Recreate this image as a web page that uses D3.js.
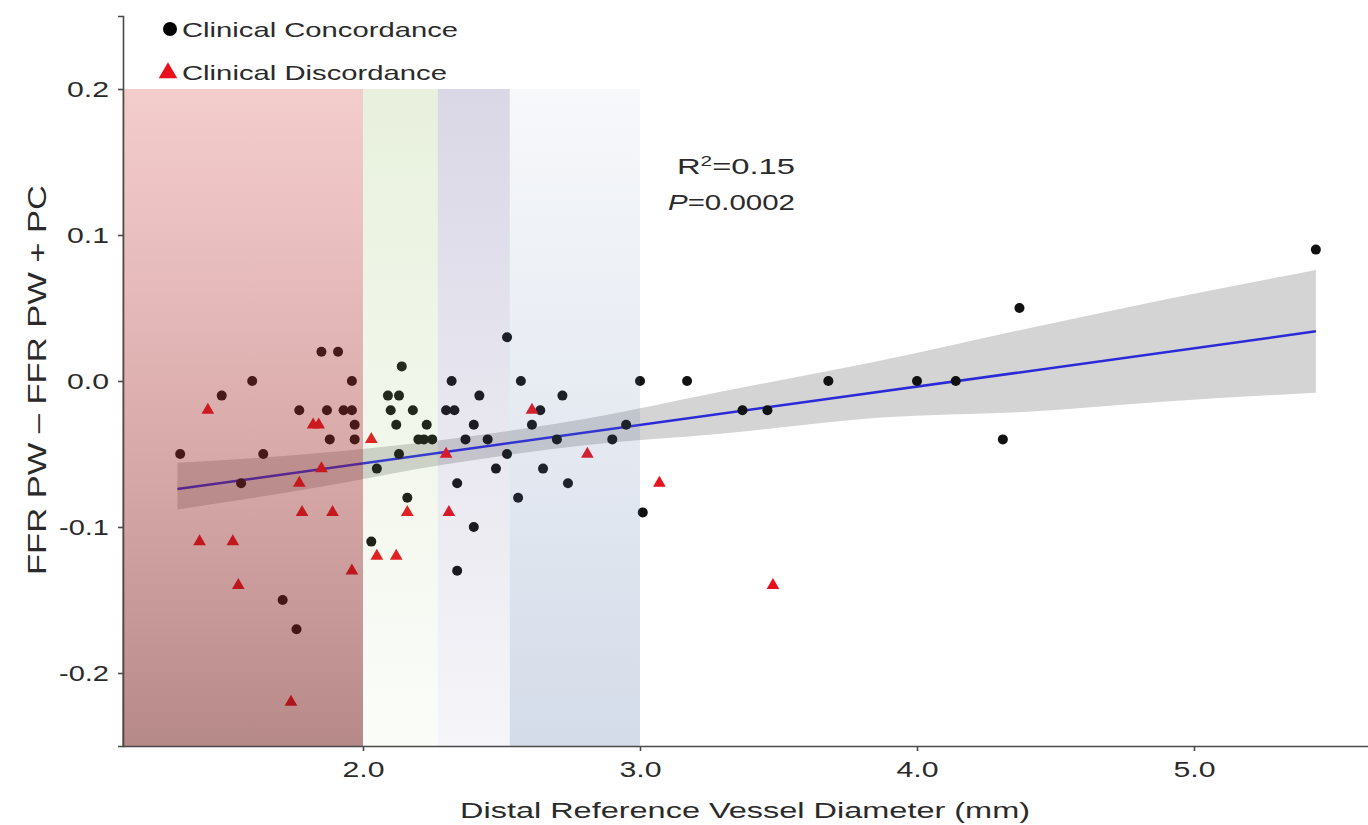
<!DOCTYPE html>
<html><head><meta charset="utf-8">
<script src="https://cdn.jsdelivr.net/npm/d3@7"></script>
<style>body{margin:0;background:#fff}svg{display:block}text{font-family:"Liberation Sans",Arial,sans-serif;fill:#2a2a2a}</style>
</head><body><svg id="c" width="1368" height="825"></svg>
<script>
// Concordance (black circles): diameter (mm), difference
const concX = [1.34,1.49,1.56,1.60,1.64,1.71,1.76,1.77,1.85,1.91,1.87,1.93,1.96,1.96,1.97,1.88,1.97,2.03,2.05,2.09,2.13,2.14,2.10,2.18,2.12,2.23,2.20,2.22,2.25,2.13,2.16,2.30,2.33,2.32,2.34,2.34,2.37,2.40,2.40,2.42,2.45,2.48,2.52,2.52,2.56,2.57,2.61,2.64,2.65,2.70,2.72,2.74,2.90,2.95,3.00,3.01,3.17,3.37,3.46,3.68,4.00,4.14,4.31,4.37,5.44];
const concY = [-0.05,-0.01,-0.07,0.00,-0.05,-0.15,-0.17,-0.02,0.02,0.02,-0.02,-0.02,-0.02,0.00,-0.03,-0.04,-0.04,-0.11,-0.06,-0.01,-0.01,0.01,-0.02,-0.02,-0.03,-0.03,-0.04,-0.04,-0.04,-0.05,-0.08,-0.02,-0.02,0.00,-0.07,-0.13,-0.04,-0.03,-0.10,-0.01,-0.04,-0.06,0.03,-0.05,-0.08,0.00,-0.03,-0.02,-0.06,-0.04,-0.01,-0.07,-0.04,-0.03,0.00,-0.09,0.00,-0.02,-0.02,0.00,0.00,0.00,-0.04,0.05,0.09];
// Discordance (red triangles)
const discX = [1.44,1.82,1.84,2.03,1.85,1.77,1.78,1.89,1.41,1.53,2.05,2.12,1.96,1.55,1.74,2.16,2.31,2.30,2.61,2.81,3.07,3.48];
const discY = [-0.02,-0.03,-0.03,-0.04,-0.06,-0.07,-0.09,-0.09,-0.11,-0.11,-0.12,-0.12,-0.13,-0.14,-0.22,-0.09,-0.09,-0.05,-0.02,-0.05,-0.07,-0.14];
// Regression fit and 95% CI
const fitX = [1.33, 5.44];
const fitY = [-0.074, 0.034];
const ciX  = [1.33, 1.8, 2.3, 2.8, 3.3, 3.87, 4.4, 4.9, 5.44];
const ciLo = [-0.088,-0.074,-0.057,-0.044,-0.036,-0.025,-0.021,-0.014,-0.008];
const ciHi = [-0.056,-0.050,-0.040,-0.026,-0.007,0.014,0.036,0.056,0.076];
// Shaded diameter bands
const bandStart = [1.13, 2.0, 2.27, 2.53];
const bandEnd   = [2.0, 2.27, 2.53, 3.0];
const xTicks = [2, 3, 4, 5];
const xTickLabels = ["2.0","3.0","4.0","5.0"];
const yTicks = [-0.2,-0.1,0.0,0.1,0.2];
const yTickLabels = ["-0.2","-0.1","0.0","0.1","0.2"];

const svg = d3.select("#c");
const x = d3.scaleLinear().domain([1.13, 5.63]).range([122, 1368.5]);
const y = d3.scaleLinear().domain([-0.25, 0.25]).range([746, 16]);

const defs = svg.append("defs");
const bandGrad = [
  {top:["rgb(210,60,60)",0.26], bot:["rgb(110,20,20)",0.5]},
  {top:["rgb(150,190,100)",0.22], bot:["rgb(150,190,100)",0.04]},
  {top:["rgb(100,90,150)",0.24], bot:["rgb(100,90,150)",0.06]},
  {top:["rgb(90,120,170)",0.05], bot:["rgb(90,120,170)",0.26]}
];
bandGrad.forEach((g,i)=>{
  const lg = defs.append("linearGradient").attr("id","bg"+i).attr("x1",0).attr("x2",0).attr("y1",0).attr("y2",1);
  lg.append("stop").attr("offset","0%").attr("stop-color",g.top[0]).attr("stop-opacity",g.top[1]);
  lg.append("stop").attr("offset","100%").attr("stop-color",g.bot[0]).attr("stop-opacity",g.bot[1]);
});

// CI band
const ci = ciX.map((v,i)=>({x:v,lo:ciLo[i],hi:ciHi[i]}));
svg.append("path").datum(ci)
  .attr("d", d3.area().x(d=>x(d.x)).y0(d=>y(d.lo)).y1(d=>y(d.hi)).curve(d3.curveMonotoneX))
  .attr("fill","#d4d4d4");
// regression line
svg.append("path").datum(fitX.map((v,i)=>[v,fitY[i]]))
  .attr("d", d3.line().x(d=>x(d[0])).y(d=>y(d[1])))
  .attr("stroke","#2a2ad8").attr("stroke-width",2.5).attr("fill","none");

// points
svg.append("g").selectAll("circle").data(concX.map((v,i)=>[v,concY[i]])).join("circle")
  .attr("cx",d=>x(d[0])).attr("cy",d=>y(d[1])).attr("r",5).attr("fill","#111");
const tri = d3.symbol().type(d3.symbolTriangle).size(70);
svg.append("g").selectAll("path").data(discX.map((v,i)=>[v,discY[i]])).join("path")
  .attr("d",tri).attr("transform",d=>`translate(${x(d[0])},${y(d[1])})`).attr("fill","#e8101c");

// overlay bands
svg.append("g").selectAll("rect").data(bandStart.map((s,i)=>({s,e:bandEnd[i],i}))).join("rect")
  .attr("x",d=>x(d.s)).attr("width",d=>x(d.e)-x(d.s))
  .attr("y",y(0.2)).attr("height",y(-0.25)-y(0.2))
  .attr("fill",d=>`url(#bg${d.i})`);

// axes
const ax = svg.append("g").attr("transform",`translate(0,${y(-0.25)})`)
  .call(d3.axisBottom(x).tickValues(xTicks).tickFormat((d,i)=>xTickLabels[i]).tickSize(5).tickSizeOuter(0));
const ay = svg.append("g").attr("transform",`translate(${x(1.13)+1},0)`)
  .call(d3.axisLeft(y).tickValues(yTicks).tickFormat((d,i)=>yTickLabels[i]).tickSize(5).tickSizeOuter(5));
[ax,ay].forEach(a=>{a.selectAll("path,line").attr("stroke","#4a4a4a").attr("stroke-width",1.6);
  a.selectAll("text").style("font-family",'"Liberation Sans",Arial,sans-serif').attr("font-size",22).attr("fill","#2a2a2a");});
ax.selectAll("text").attr("dy","0.6em").attr("y",18).attr("textLength",42).attr("lengthAdjust","spacingAndGlyphs");
ay.selectAll("text").attr("x",-14).each(function(d){d3.select(this).attr("textLength", d<0?50:42).attr("lengthAdjust","spacingAndGlyphs");});

function label(str,xp,yp,size,len,anchor){
  return svg.append("text").attr("x",xp).attr("y",yp).attr("font-size",size)
    .attr("text-anchor",anchor||"start").attr("textLength",len).attr("lengthAdjust","spacingAndGlyphs").text(str);
}
// axis titles
label("Distal Reference Vessel Diameter (mm)", 745, 818, 22, 570, "middle").attr("fill","#3a3a3a");
svg.append("text").attr("transform","translate(46,380) rotate(-90)").attr("font-size",25)
  .attr("text-anchor","middle").attr("textLength",390).attr("lengthAdjust","spacingAndGlyphs")
  .attr("fill","#3a3a3a").text("FFR PW \u2013 FFR PW + PC");

// legend
svg.append("circle").attr("cx",170).attr("cy",29).attr("r",7).attr("fill","#000");
svg.append("path").attr("d",d3.symbol().type(d3.symbolTriangle).size(150)).attr("transform","translate(168,73)").attr("fill","#e8101c");
label("Clinical Concordance",182,37,21,276);
label("Clinical Discordance",182,80,21,265);

// stats annotation
const r2 = svg.append("text").attr("x",795).attr("y",174).attr("font-size",22).attr("text-anchor","end");
r2.append("tspan").text("R");
r2.append("tspan").attr("font-size",14).attr("dy",-8).text("2");
r2.append("tspan").attr("dy",8).text("=0.15");
r2.attr("textLength",118).attr("lengthAdjust","spacingAndGlyphs");
const pv = svg.append("text").attr("x",795).attr("y",210).attr("font-size",22).attr("text-anchor","end");
pv.append("tspan").attr("font-style","italic").text("P");
pv.append("tspan").text("=0.0002");
pv.attr("textLength",127).attr("lengthAdjust","spacingAndGlyphs");
</script></body></html>
